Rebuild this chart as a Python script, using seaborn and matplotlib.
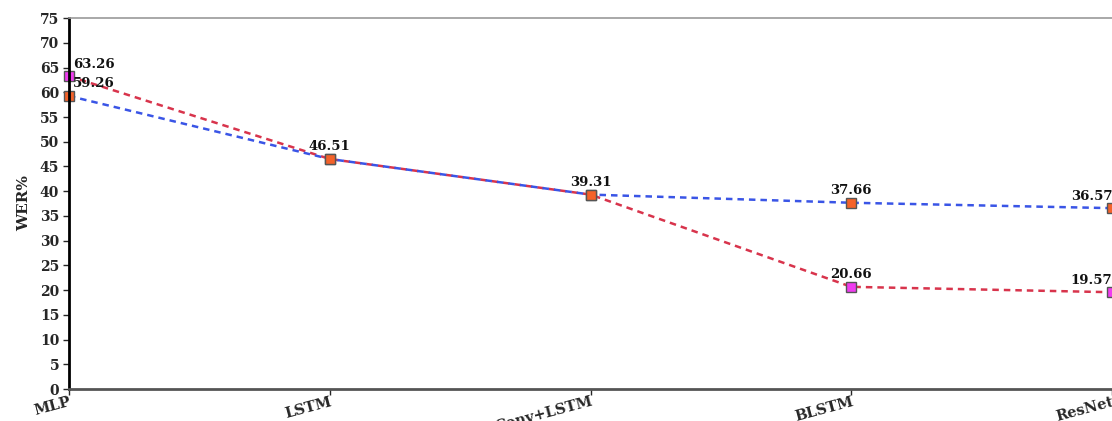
import matplotlib
matplotlib.use("Agg")
import matplotlib.pyplot as plt
import pandas as pd
import seaborn as sns

# chart values
models = ["MLP", "LSTM", "Conv+LSTM", "BLSTM", "ResNet"]
wer_red = [63.26, 46.51, 39.31, 20.66, 19.57]
wer_blue = [59.26, 46.51, 39.31, 37.66, 36.57]
y_ticks = list(range(0, 80, 5))

sns.set_style("white")
plt.rcParams["font.family"] = ["DejaVu Serif", "Liberation Serif"]
plt.rcParams["font.weight"] = "bold"

df = pd.DataFrame({
    "pos": list(range(len(models))) * 2,
    "wer": wer_red + wer_blue,
    "series": ["red"] * len(models) + ["blue"] * len(models),
})

fig = plt.figure(figsize=(11.12, 4.21), dpi=100)
ax = fig.add_axes([0.062, 0.076, 0.94, 0.881])

line_kw = dict(linestyle=(0, (2.6, 2.0)), linewidth=1.8, marker="s", markersize=7,
               markeredgecolor="#555555", markeredgewidth=1.0, clip_on=False)
sns.lineplot(data=df[df.series == "red"], x="pos", y="wer", ax=ax,
             color="#d8344c", markerfacecolor="#f03cf0", **line_kw)
sns.lineplot(data=df[df.series == "blue"], x="pos", y="wer", ax=ax,
             color="#3a55e6", markerfacecolor="#f4622a", **line_kw)

# value labels
def put_label(i, v):
    if i == 0:
        ha, dx = "left", 3
    elif i == len(models) - 1:
        ha, dx = "right", 0
    else:
        ha, dx = "center", 0
    ax.annotate(f"{v:.2f}", (i, v), xytext=(dx, 4), textcoords="offset points",
                ha=ha, va="bottom", fontsize=9.5, fontweight="bold", color="#111111")

for i, v in enumerate(wer_red):
    if v != wer_blue[i]:
        put_label(i, v)
for i, v in enumerate(wer_blue):
    put_label(i, v)

ax.set_xlim(0, 4.008)
ax.set_ylim(0, 75)
ax.set_yticks(y_ticks)
ax.set_xticks(range(len(models)))
ax.set_xticklabels(models, rotation=15, ha="right", rotation_mode="anchor",
                   fontsize=10.5, fontweight="bold")
ax.tick_params(axis="y", labelsize=10, length=4, width=1, direction="out", left=True, pad=3)
ax.tick_params(axis="x", length=4, width=1, direction="out", bottom=True, pad=0)
for lab in ax.get_yticklabels():
    lab.set_fontweight("bold")

ax.set_xlabel("")
ax.set_ylabel("WER%", fontsize=11, fontweight="bold", labelpad=6)

ax.spines["left"].set_color("black")
ax.spines["left"].set_linewidth(2)
ax.spines["bottom"].set_color("#555555")
ax.spines["bottom"].set_linewidth(2)
ax.spines["top"].set_color("#999999")
ax.spines["top"].set_linewidth(1.2)
ax.spines["right"].set_visible(False)
ax.grid(False)

fig.savefig("out.png", dpi=100)
